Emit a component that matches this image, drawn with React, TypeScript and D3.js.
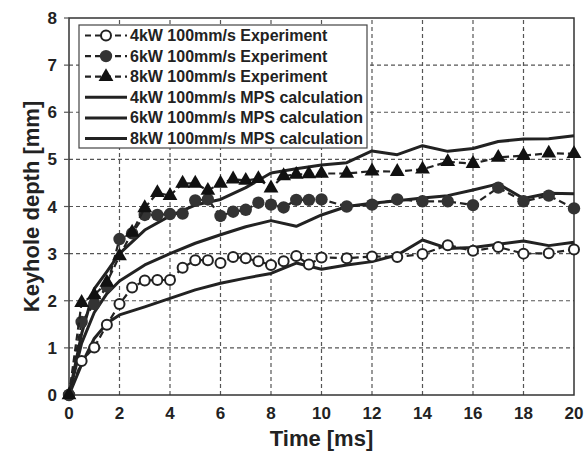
import React, { useRef, useEffect } from 'react';
import * as d3 from 'd3';

// experiment time points [ms]
const expTime = [0, 0.5, 1, 1.5, 2, 2.5, 3, 3.5, 4, 4.5, 5, 5.5, 6, 6.5, 7, 7.5, 8, 8.5, 9, 9.5, 10,
  11, 12, 13, 14, 15, 16, 17, 18, 19, 20];
const exp4kW = [0, 0.72, 1.01, 1.49, 1.93, 2.28, 2.43, 2.44, 2.44, 2.70, 2.86, 2.86, 2.80, 2.93, 2.90, 2.84,
  2.76, 2.84, 2.95, 2.77, 2.92, 2.90, 2.94, 2.93, 2.99, 3.18, 3.06, 3.14, 3.00, 3.01, 3.09];
const exp6kW = [0, 1.55, 1.93, 2.3, 3.31, 3.43, 3.82, 3.82, 3.84, 3.85, 4.13, 4.15, 3.80, 3.89, 3.93, 4.08,
  4.04, 3.98, 4.14, 4.14, 4.15, 4.0, 4.04, 4.15, 4.11, 4.11, 4.03, 4.40, 4.11, 4.23, 3.96];
const exp8kW = [0, 1.96, 2.12, 2.39, 2.95, 3.45, 3.97, 4.29, 4.23, 4.49, 4.49, 4.34, 4.49, 4.58, 4.55, 4.59,
  4.39, 4.65, 4.68, 4.69, 4.70, 4.70, 4.75, 4.74, 4.79, 4.95, 4.91, 5.04, 5.08, 5.13, 5.12];

// MPS calculation time points [ms]
const mpsTime = [0, 0.5, 1, 1.5, 2, 3, 4, 5, 6, 7, 8, 9, 10, 11, 12, 13, 14, 15, 16, 17, 18, 19, 20];
const mps4kW = [0, 0.65, 1.2, 1.52, 1.7, 1.87, 2.05, 2.23, 2.37, 2.48, 2.58, 2.8, 2.67, 2.76, 2.83, 2.97,
  3.29, 3.11, 3.13, 3.2, 3.27, 3.17, 3.24];
const mps6kW = [0, 1.1, 1.75, 2.15, 2.42, 2.76, 3.0, 3.22, 3.4, 3.57, 3.7, 3.58, 3.82, 4.0, 4.07, 4.12,
  4.18, 4.23, 4.35, 4.48, 4.17, 4.28, 4.27];
const mps8kW = [0, 1.3, 2.25, 2.62, 3.0, 3.5, 3.8, 4.03, 4.15, 4.4, 4.71, 4.8, 4.88, 4.93, 5.18, 5.1,
  5.29, 5.17, 5.23, 5.38, 5.43, 5.44, 5.5];

const xTicks = [0, 2, 4, 6, 8, 10, 12, 14, 16, 18, 20];
const yTicks = [0, 1, 2, 3, 4, 5, 6, 7, 8];

const legendLabels = [
  '4kW 100mm/s Experiment',
  '6kW 100mm/s Experiment',
  '8kW 100mm/s Experiment',
  '4kW 100mm/s MPS calculation',
  '6kW 100mm/s MPS calculation',
  '8kW 100mm/s MPS calculation',
];

const FONT = 'Arial, "Liberation Sans", Helvetica, sans-serif';

const App = () => {
  const svgRef = useRef(null);

  useEffect(() => {
    const width = 584;
    const height = 454;
    const margin = { top: 18, right: 10, bottom: 59, left: 69 };

    const svg = d3.select(svgRef.current);
    svg.selectAll('*').remove();

    const x = d3.scaleLinear().domain([0, 20]).range([margin.left, width - margin.right]);
    const y = d3.scaleLinear().domain([0, 8]).range([height - margin.bottom, margin.top]);

    svg.append('rect').attr('width', width).attr('height', height).attr('fill', '#fff');

    // grid
    const grid = svg.append('g').attr('stroke', '#555').attr('stroke-width', 1.2)
      .attr('stroke-dasharray', '4,3');
    xTicks.slice(1, -1).forEach(t => {
      grid.append('line').attr('x1', x(t)).attr('x2', x(t)).attr('y1', y(0)).attr('y2', y(8));
    });
    yTicks.slice(1, -1).forEach(t => {
      grid.append('line').attr('x1', x(0)).attr('x2', x(20)).attr('y1', y(t)).attr('y2', y(t));
    });

    // frame
    svg.append('rect')
      .attr('x', x(0)).attr('y', y(8))
      .attr('width', x(20) - x(0)).attr('height', y(0) - y(8))
      .attr('fill', 'none').attr('stroke', '#333').attr('stroke-width', 1.5);

    // y ticks
    yTicks.forEach(t => {
      svg.append('line').attr('x1', x(0) - 5).attr('x2', x(0)).attr('y1', y(t)).attr('y2', y(t))
        .attr('stroke', '#555').attr('stroke-width', 1.2);
      svg.append('text')
        .attr('x', 57).attr('y', y(t) + 6)
        .attr('text-anchor', 'end')
        .attr('font-family', FONT).attr('font-weight', 'bold').attr('font-size', '17px')
        .attr('fill', '#222')
        .text(t);
    });

    xTicks.forEach(t => {
      svg.append('text')
        .attr('x', x(t)).attr('y', 419)
        .attr('text-anchor', 'middle')
        .attr('font-family', FONT).attr('font-weight', 'bold').attr('font-size', '17px')
        .attr('fill', '#222')
        .text(t);
    });

    // axis titles
    svg.append('text')
      .attr('x', (x(0) + x(20)) / 2).attr('y', 446)
      .attr('text-anchor', 'middle')
      .attr('font-family', FONT).attr('font-weight', 'bold').attr('font-size', '22px')
      .attr('fill', '#222')
      .text('Time [ms]');

    svg.append('text')
      .attr('transform', `translate(39, ${(y(0) + y(8)) / 2}) rotate(-90)`)
      .attr('text-anchor', 'middle')
      .attr('font-family', FONT).attr('font-weight', 'bold').attr('font-size', '22px')
      .attr('fill', '#222')
      .text('Keyhole depth [mm]');

    const line = d3.line().x(d => x(d[0])).y(d => y(d[1]));
    const zip = (ts, vs) => ts.map((t, i) => [t, vs[i]]);

    // MPS calculation lines
    [mps4kW, mps6kW, mps8kW].forEach(vals => {
      svg.append('path')
        .attr('d', line(zip(mpsTime, vals)))
        .attr('fill', 'none').attr('stroke', '#222').attr('stroke-width', 3)
        .attr('stroke-linejoin', 'round');
    });

    const triangle = d3.symbol().type(d3.symbolTriangle).size(95);

    const drawMarker = (g, kind, cx, cy) => {
      if (kind === 'open') {
        g.append('circle').attr('cx', cx).attr('cy', cy).attr('r', 5)
          .attr('fill', '#fff').attr('stroke', '#222').attr('stroke-width', 2);
      } else if (kind === 'filled') {
        g.append('circle').attr('cx', cx).attr('cy', cy).attr('r', 6.2)
          .attr('fill', '#333');
      } else {
        g.append('path').attr('d', triangle()).attr('transform', `translate(${cx},${cy})`)
          .attr('fill', '#111');
      }
    };

    const experiments = [
      { vals: exp4kW, kind: 'open' },
      { vals: exp6kW, kind: 'filled' },
      { vals: exp8kW, kind: 'tri' },
    ];

    experiments.forEach(s => {
      svg.append('path')
        .attr('d', line(zip(expTime, s.vals)))
        .attr('fill', 'none').attr('stroke', '#222').attr('stroke-width', 2.2)
        .attr('stroke-dasharray', '7,4');
      const g = svg.append('g');
      expTime.forEach((t, i) => drawMarker(g, s.kind, x(t), y(s.vals[i])));
    });

    // legend
    const legend = svg.append('g');
    legend.append('rect')
      .attr('x', 79).attr('y', 25).attr('width', 288).attr('height', 123)
      .attr('fill', '#fff').attr('stroke', '#444').attr('stroke-width', 1.2);
    legendLabels.forEach((label, i) => {
      const ly = 35.5 + i * 20.6;
      const row = legend.append('g');
      if (i < 3) {
        row.append('line').attr('x1', 85).attr('x2', 127).attr('y1', ly).attr('y2', ly)
          .attr('stroke', '#222').attr('stroke-width', 2.2).attr('stroke-dasharray', '6,4');
        drawMarker(row, experiments[i].kind, 106, ly);
      } else {
        row.append('line').attr('x1', 85).attr('x2', 127).attr('y1', ly).attr('y2', ly)
          .attr('stroke', '#222').attr('stroke-width', 3);
      }
      row.append('text')
        .attr('x', 130).attr('y', ly + 5.5)
        .attr('font-family', FONT).attr('font-weight', 'bold').attr('font-size', '16px')
        .attr('fill', '#222')
        .text(label);
    });
  }, []);

  return (
    <svg
      ref={svgRef}
      width={584}
      height={454}
      style={{ position: 'absolute', left: 0, top: 0 }}
    ></svg>
  );
};

export default App;
